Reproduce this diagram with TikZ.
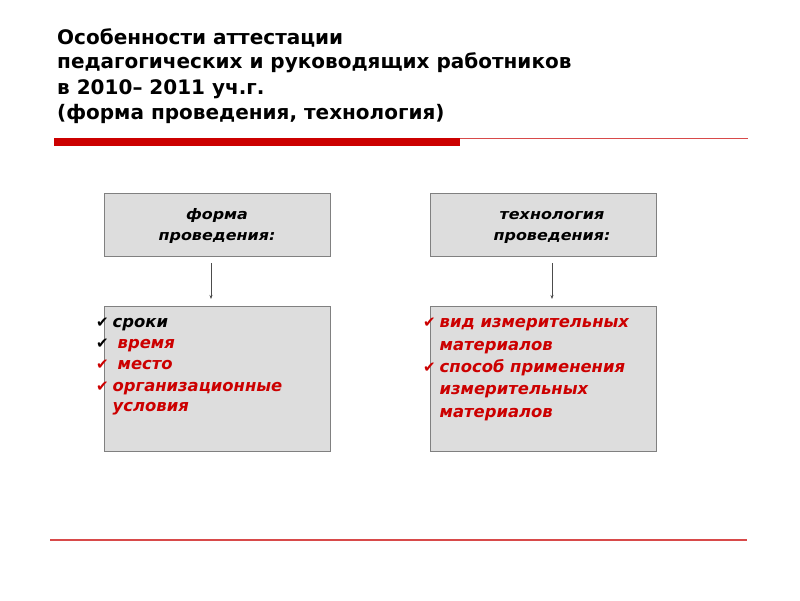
\documentclass[tikz,border=0pt]{standalone}
\usepackage{fontspec}
\setmainfont{DejaVu Sans}
\newfontfamily\titlefont{DejaVu Sans}
\newfontfamily\headfont[FakeStretch=1.1]{DejaVu Sans}
\newfontfamily\symfont{DejaVu Sans}
\usetikzlibrary{arrows.meta}
\definecolor{myred}{HTML}{CC0000}
\definecolor{thinred}{HTML}{D84A4A}
\definecolor{boxgray}{HTML}{DDDDDD}
\definecolor{edgegray}{HTML}{808080}
\tikzset{
  hbox/.style={draw=edgegray, fill=boxgray, line width=0.8pt, minimum width=226pt, minimum height=63pt, inner sep=0pt},
  lbox/.style={draw=edgegray, fill=boxgray, line width=0.8pt, minimum width=226pt, minimum height=145pt, inner sep=0pt},
  htext/.style={anchor=base, inner sep=0pt, font=\headfont\fontsize{14.5}{21}\selectfont\bfseries\itshape},
  titletext/.style={anchor=base west, font=\titlefont\fontsize{20}{25}\selectfont\bfseries, inner sep=0pt},
  itemtext/.style={anchor=base west, font=\fontsize{16.4}{21}\selectfont\bfseries\itshape, inner sep=0pt},
  chk/.style={anchor=base west, font=\symfont\fontsize{15}{16}\selectfont, inner sep=0pt},
  arr/.style={draw=black!70, line width=0.6pt, -{Stealth[length=4pt,width=3pt]}}
}
\begin{document}
\begin{tikzpicture}[x=1pt,y=-1pt]
\useasboundingbox (0,0) rectangle (800,600);
\fill[white] (0,0) rectangle (800,600);
% title
\node[titletext] (t1) at (57,44) {Особенности аттестации};
\node[titletext] (t2) at (57,68.5) {педагогических и руководящих работников};
\node[titletext] (t3) at (57,94) {в 2010– 2011 уч.г.};
\node[titletext] (t4) at (57,119) {(форма проведения, технология)};
% rules
\fill[myred] (54,137.5) rectangle (460,146);
\draw[thinred, line width=1pt] (460,138) -- (748,138);
\draw[thinred, line width=1.2pt] (50,540) -- (747,540);
% header boxes
\node[hbox] (b1) at (217,224.5) {};
\node[htext] (h1) at (217,219) {форма};
\node[htext] (h2) at (217,240) {проведения:};
\node[hbox] (b2) at (543.5,224.5) {};
\node[htext] (h3) at (552,219) {технология};
\node[htext] (h4) at (552,240) {проведения:};
% lower boxes
\node[lbox] (b3) at (217,378.5) {};
\node[lbox] (b4) at (543.5,378.5) {};
% arrows
\coordinate (a1s) at (211,263);
\coordinate (a1e) at (211,299);
\coordinate (a2s) at (552,263);
\coordinate (a2e) at (552,299);
\draw[arr] (a1s) -- (a1e);
\draw[arr] (a2s) -- (a2e);
% left list
\node[chk, text=black] (c1) at (96,327) {✔};
\node[itemtext] (l1) at (112.5,327) {сроки};
\node[chk, text=black] (c2) at (96,348) {✔};
\node[itemtext, text=myred] (l2) at (117.5,348) {время};
\node[chk, text=myred] (c3) at (96,369) {✔};
\node[itemtext, text=myred] (l3) at (117.5,369) {место};
\node[chk, text=myred] (c4) at (96,391) {✔};
\node[itemtext, text=myred] (l4) at (112.5,391) {организационные};
\node[itemtext, text=myred] (l5) at (112.5,411) {условия};
% right list
\node[chk, text=myred] (c5) at (423,327) {✔};
\node[itemtext, text=myred] (r1) at (439.5,327) {вид измерительных};
\node[itemtext, text=myred] (r2) at (439.5,350) {материалов};
\node[chk, text=myred] (c6) at (423,372) {✔};
\node[itemtext, text=myred] (r3) at (439.5,372) {способ применения};
\node[itemtext, text=myred] (r4) at (439.5,394) {измерительных};
\node[itemtext, text=myred] (r5) at (439.5,417) {материалов};
\end{tikzpicture}
\end{document}
